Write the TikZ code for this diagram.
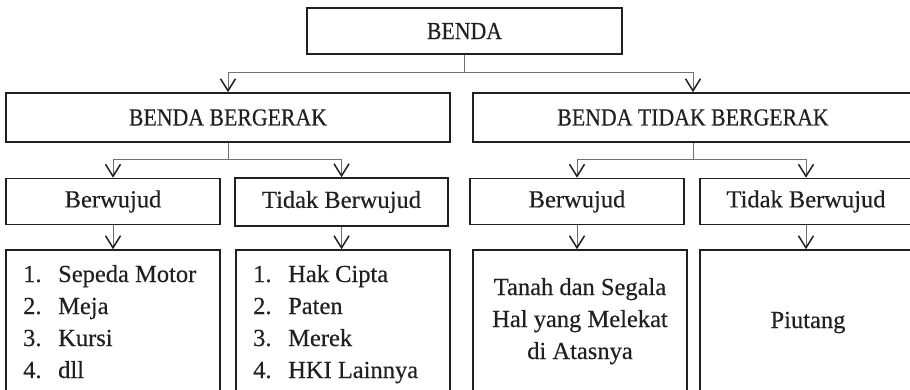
\documentclass[tikz,border=0pt]{standalone}
\usepackage{fontspec}
\setmainfont[FakeBold=0.35]{Liberation Serif}
\newfontfamily\capsf[FakeStretch=0.89,FakeBold=0.35]{Liberation Serif}
\usetikzlibrary{arrows.meta}
\definecolor{boxc}{HTML}{231F20}
\definecolor{linec}{HTML}{707070}
\definecolor{txt}{HTML}{231F20}
\begin{document}
\begin{tikzpicture}[x=1pt,y=-1pt,
  every node/.style={text=txt, font=\fontsize{24.5}{32}\selectfont},
  box/.style={draw=boxc, line width=1.6pt, inner sep=0pt, align=center},
  conn/.style={draw=linec, line width=1pt},
  arr/.style={conn, -{Straight Barb[length=12pt,width=15pt,line width=1.5pt,color=boxc]}}]
\useasboundingbox (0,0) rectangle (910,390);
\clip (0,0) rectangle (910,390);
% level 1
\node[box, minimum width=315pt, minimum height=46pt] (benda) at (464.5,31) {\capsf BENDA};
% level 2
\node[box, minimum width=444pt, minimum height=49pt] (bb) at (228,117.5) {\capsf BENDA BERGERAK};
\node[box, minimum width=440pt, minimum height=49pt] (btb) at (693,117.5) {\capsf BENDA TIDAK BERGERAK};
% level 3
\node[box, minimum width=214pt, minimum height=46pt] (bw1) at (113,201.5) {Berwujud};
\node[box, minimum width=213pt, minimum height=48pt] (tb1) at (341.5,202) {Tidak Berwujud};
\node[box, minimum width=214pt, minimum height=46pt] (bw2) at (577,201.5) {Berwujud};
\node[box, minimum width=212pt, minimum height=46pt] (tb2) at (806,201.5) {Tidak Berwujud};
% level 4
\node[box, minimum width=214pt, minimum height=150pt] (l1) at (113,325) {};
\node[box, minimum width=214pt, minimum height=150pt] (l2) at (343,325) {};
\node[box, minimum width=214pt, minimum height=150pt] (l3) at (580,325) {};
\node[box, minimum width=212pt, minimum height=150pt] (l4) at (806,325) {};
% texts of level 4
\node[anchor=base west, inner sep=0pt] (t1) at (23,282)
  {\begin{tabular}[t]{@{}p{35pt}@{}l@{}}1. & Sepeda Motor\\ 2. & Meja\\ 3. & Kursi\\ 4. & dll\end{tabular}};
\node[anchor=base west, inner sep=0pt] (t2) at (253,282)
  {\begin{tabular}[t]{@{}p{35pt}@{}l@{}}1. & Hak Cipta\\ 2. & Paten\\ 3. & Merek\\ 4. & HKI Lainnya\end{tabular}};
\node[anchor=base, inner sep=0pt] (t3) at (580,295)
  {\begin{tabular}[t]{@{}c@{}}Tanah dan Segala\\ Hal yang Melekat\\ di Atasnya\end{tabular}};
\node[anchor=base, inner sep=0pt] (t4) at (808,328) {Piutang};
% connectors
\coordinate (j1) at (464.5,73);
\coordinate (j2) at (228,160);
\coordinate (j3) at (693,160);
\draw[conn] (benda.south) -- (j1);
\draw[arr] (j1) -| (bb.north);
\draw[arr] (j1) -| (btb.north);
\draw[conn] (bb.south) -- (j2);
\draw[arr] (j2) -| (bw1.north);
\draw[arr] (j2) -| (tb1.north);
\draw[conn] (btb.south) -- (j3);
\draw[arr] (j3) -| (bw2.north);
\draw[arr] (j3) -| (tb2.north);
\draw[arr] (bw1.south) -- (bw1.south |- l1.north);
\draw[arr] (tb1.south) -- (tb1.south |- l2.north);
\draw[arr] (bw2.south) -- (bw2.south |- l3.north);
\draw[arr] (tb2.south) -- (tb2.south |- l4.north);
\end{tikzpicture}
\end{document}
